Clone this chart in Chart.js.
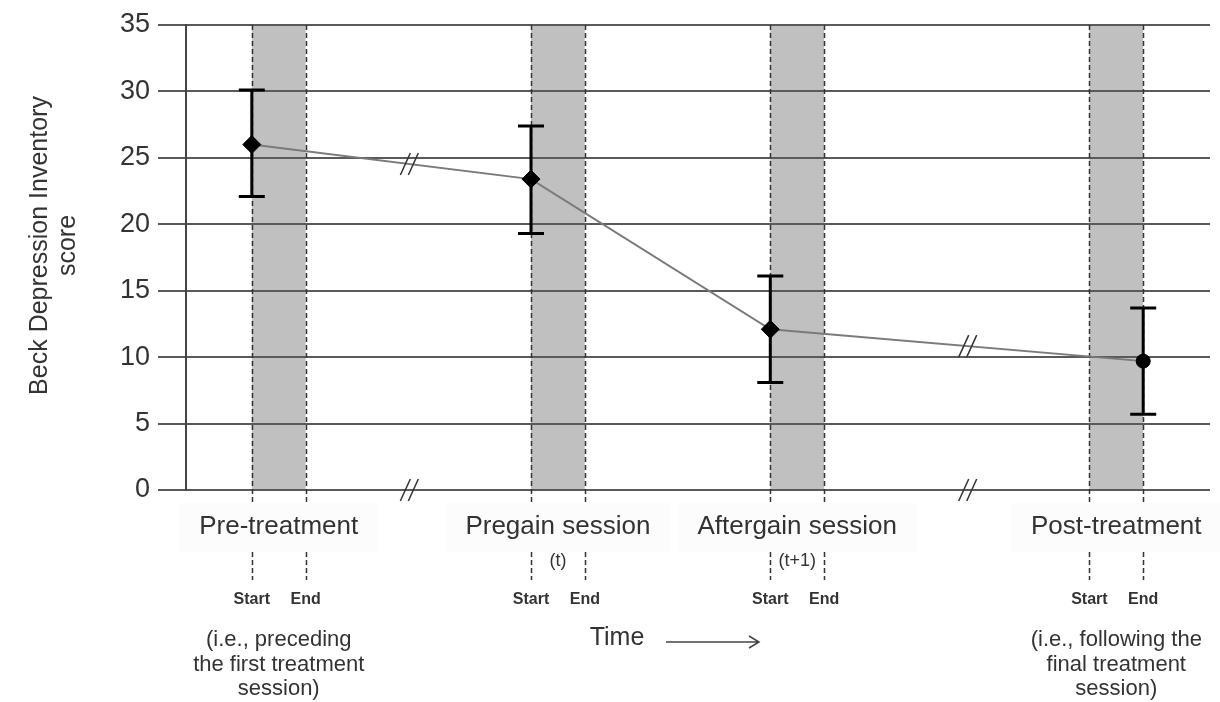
<!DOCTYPE html>
<html>
<head>
<meta charset="utf-8">
<script src="https://cdn.jsdelivr.net/npm/chart.js@4.4.1/dist/chart.umd.min.js"></script>
<style>
  body { margin: 0; background: #fff; }
  #wrap { width: 1220px; height: 702px; position: relative; }
</style>
</head>
<body>
<div id="wrap"><canvas id="chart-bdi"></canvas></div>
<script>
// ── Data ──
const phaseLabels = ['Pre-treatment', 'Pregain session', 'Aftergain session', 'Post-treatment'];
const phaseSubLabels = ['', '(t)', '(t+1)', ''];
const sessionStart = [6.6, 34.6, 58.6, 90.6];
const sessionEnd = [12.0, 40.0, 64.0, 96.0];
const pointX = [6.6, 34.6, 58.6, 96.0];
const bdiMean = [26.0, 23.4, 12.1, 9.7];
const bdiLower = [22.1, 19.3, 8.1, 5.7];
const bdiUpper = [30.1, 27.4, 16.1, 13.7];
const breakX = [22.4, 78.4];
const footnotes = [
  ['(i.e., preceding', 'the first treatment', 'session)'],
  [], [],
  ['(i.e., following the', 'final treatment', 'session)']
];
const yTitle = ['Beck Depression Inventory', 'score'];

const FONT = "'Liberation Sans', Arial, sans-serif";
const TEXT = '#333';

// ── Plugins ──
const bandsPlugin = {
  id: 'bands',
  beforeDraw(chart) {
    const { ctx, chartArea: a, scales: { x } } = chart;
    ctx.save();
    ctx.fillStyle = '#c0c0c0';
    sessionStart.forEach((s, i) => {
      const x0 = x.getPixelForValue(s), x1 = x.getPixelForValue(sessionEnd[i]);
      ctx.fillRect(x0, a.top, x1 - x0, a.bottom - a.top);
    });
    // faint label boxes
    ctx.font = `26px ${FONT}`;
    ctx.fillStyle = 'rgba(0,0,0,0.012)';
    phaseLabels.forEach((t, i) => {
      const cx = (x.getPixelForValue(sessionStart[i]) + x.getPixelForValue(sessionEnd[i])) / 2;
      const w = ctx.measureText(t).width + 40;
      ctx.fillRect(cx - w / 2, a.bottom + 13, w, 49);
    });
    ctx.restore();
  },
  beforeDatasetsDraw(chart) {
    const { ctx, chartArea: a, scales: { x, y } } = chart;
    ctx.save();
    // dashed session edges
    ctx.strokeStyle = '#333';
    ctx.lineWidth = 1.5;
    ctx.setLineDash([5, 3]);
    [...sessionStart, ...sessionEnd].forEach(v => {
      const px = Math.round(x.getPixelForValue(v)) + 0.5;
      ctx.beginPath();
      ctx.moveTo(px, a.top);
      ctx.lineTo(px, a.bottom + 14);
      ctx.moveTo(px, a.bottom + 62);
      ctx.lineTo(px, a.bottom + 90);
      ctx.stroke();
    });
    ctx.setLineDash([]);
    // error bars
    ctx.strokeStyle = '#000';
    ctx.lineWidth = 3;
    pointX.forEach((v, i) => {
      const px = x.getPixelForValue(v);
      const yl = y.getPixelForValue(bdiLower[i]), yu = y.getPixelForValue(bdiUpper[i]);
      ctx.beginPath();
      ctx.moveTo(px, yl); ctx.lineTo(px, yu);
      ctx.moveTo(px - 13, yl); ctx.lineTo(px + 13, yl);
      ctx.moveTo(px - 13, yu); ctx.lineTo(px + 13, yu);
      ctx.stroke();
    });
    ctx.restore();
  },
  afterDatasetsDraw(chart) {
    const { ctx, chartArea: a, scales: { x, y } } = chart;
    ctx.save();
    ctx.strokeStyle = '#333';
    ctx.lineWidth = 1.5;
    const slash = (cx, cy) => {
      [-4, 4].forEach(o => {
        ctx.beginPath();
        ctx.moveTo(cx + o - 5, cy + 11);
        ctx.lineTo(cx + o + 5, cy - 11);
        ctx.stroke();
      });
    };
    breakX.forEach(b => {
      // find segment of the mean line that crosses b
      let j = 0;
      while (j < pointX.length - 2 && pointX[j + 1] < b) j++;
      const t = (b - pointX[j]) / (pointX[j + 1] - pointX[j]);
      const v = bdiMean[j] + t * (bdiMean[j + 1] - bdiMean[j]);
      slash(x.getPixelForValue(b), y.getPixelForValue(v));
      slash(x.getPixelForValue(b), a.bottom);
    });
    ctx.restore();
  },
  afterDraw(chart) {
    const { ctx, chartArea: a, scales: { x } } = chart;
    ctx.save();
    ctx.fillStyle = TEXT;
    ctx.textAlign = 'center';
    ctx.textBaseline = 'middle';

    phaseLabels.forEach((t, i) => {
      const xs = x.getPixelForValue(sessionStart[i]), xe = x.getPixelForValue(sessionEnd[i]);
      const cx = (xs + xe) / 2;
      ctx.font = `26px ${FONT}`;
      ctx.fillText(t, cx, a.bottom + 37);
      if (phaseSubLabels[i]) {
        ctx.font = `18px ${FONT}`;
        ctx.fillText(phaseSubLabels[i], cx, a.bottom + 71);
      }
      ctx.font = `bold 16px ${FONT}`;
      ctx.fillStyle = '#333';
      ctx.fillText('Start', xs, a.bottom + 110);
      ctx.fillText('End', xe, a.bottom + 110);
      ctx.fillStyle = TEXT;
      ctx.font = `22px ${FONT}`;
      footnotes[i].forEach((line, k) => ctx.fillText(line, cx, a.bottom + 150 + k * 24.5));
    });

    // Time arrow
    ctx.font = `25px ${FONT}`;
    ctx.fillText('Time', 617, a.bottom + 148);
    ctx.strokeStyle = '#444';
    ctx.lineWidth = 1.5;
    const ay = a.bottom + 152;
    ctx.beginPath();
    ctx.moveTo(666, ay); ctx.lineTo(759, ay);
    ctx.moveTo(749, ay - 6); ctx.lineTo(759, ay); ctx.lineTo(749, ay + 6);
    ctx.stroke();

    // y title
    ctx.font = `25px ${FONT}`;
    ctx.translate(40, (a.top + a.bottom) / 2 - 12);
    ctx.rotate(-Math.PI / 2);
    yTitle.forEach((line, k) => ctx.fillText(line, 0, k * 28));
    ctx.restore();
  }
};

// ── Chart ──
const bdiChart = new Chart(document.getElementById('chart-bdi'), {
  type: 'line',
  data: {
    datasets: [{
      label: 'BDI',
      data: pointX.map((v, i) => ({ x: v, y: bdiMean[i] })),
      borderColor: '#7a7a7a',
      borderWidth: 2,
      tension: 0,
      pointStyle: ['rectRot', 'rectRot', 'rectRot', 'circle'],
      pointRadius: [9, 9, 9, 7],
      pointBackgroundColor: '#000',
      pointBorderColor: '#000',
      pointBorderWidth: 1,
      fill: false,
    }]
  },
  options: {
    responsive: true,
    maintainAspectRatio: false,
    animation: false,
    layout: { padding: { top: 25, right: 7, bottom: 212, left: 0 } },
    plugins: { legend: { display: false }, tooltip: { enabled: false } },
    scales: {
      x: { type: 'linear', min: 0, max: 102.7, display: false },
      y: {
        min: 0, max: 35,
        ticks: { stepSize: 5, color: TEXT, font: { size: 27, family: FONT }, padding: 8 },
        grid: { color: '#5a5a5a', lineWidth: 2, tickLength: 28, tickColor: '#5a5a5a' },
        border: { display: true, color: '#444', width: 2 },
        afterFit(s) { s.width = 186; }
      }
    }
  },
  plugins: [bandsPlugin]
});
</script>
</body>
</html>
